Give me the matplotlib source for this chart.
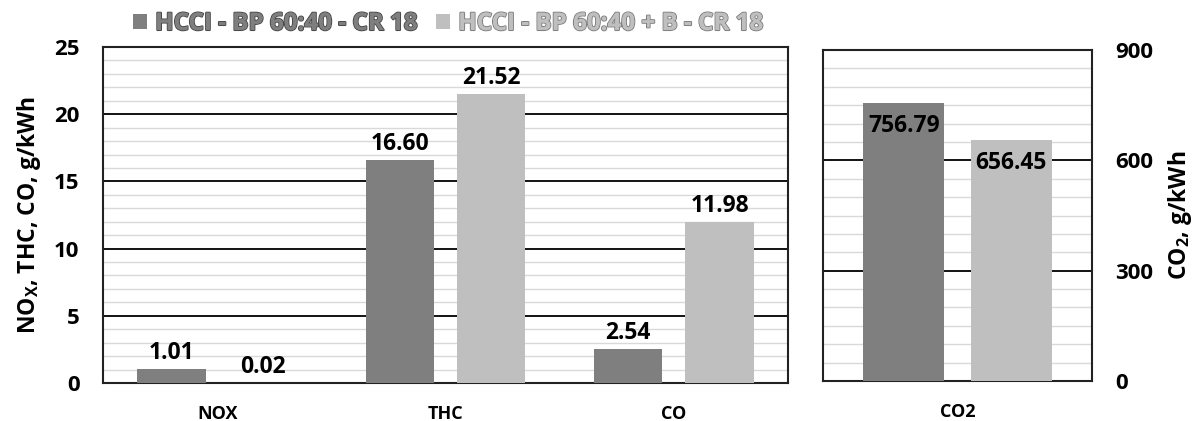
import matplotlib
matplotlib.use('Agg')
import matplotlib.pyplot as plt
import matplotlib.patheffects as pe
import numpy as np
from matplotlib.ticker import MultipleLocator

plt.rcParams['font.family'] = ['Open Sans', 'DejaVu Sans']
plt.rcParams['font.weight'] = 'bold'

# data
categories = ['NOX', 'THC', 'CO']
base_vals = [1.01, 16.60, 2.54]
bio_vals = [0.02, 21.52, 11.98]
co2_category = ['CO2']
co2_base = [756.79]
co2_bio = [656.45]
series_names = ['HCCI - BP 60:40 - CR 18', 'HCCI - BP 60:40 + B - CR 18']

dark = '#7f7f7f'
light = '#bfbfbf'
w = 0.30
off = 0.20

fig = plt.figure(figsize=(11.98, 4.21), dpi=100)
ax = fig.add_axes([103 / 1198, 1 - 383 / 421, 685 / 1198, 336 / 421])
ax2 = fig.add_axes([823 / 1198, 1 - 381 / 421, 269 / 1198, 331 / 421])


def style_axis(a, major, minor):
    a.yaxis.set_major_locator(MultipleLocator(major))
    a.yaxis.set_minor_locator(MultipleLocator(minor))
    a.grid(axis='y', which='minor', color='#d9d9d9', lw=1.0)
    a.grid(axis='y', which='major', color='black', lw=1.3)
    a.set_axisbelow(True)
    for s in a.spines.values():
        s.set_color('#222222')
        s.set_linewidth(1.5)
    a.tick_params(axis='both', which='both', length=0)
    a.tick_params(axis='y', labelsize=16, pad=17)
    a.tick_params(axis='x', labelsize=13, pad=16)
    for lab in a.get_xticklabels() + a.get_yticklabels():
        lab.set_fontweight('bold')


# left: NOX / THC / CO
x = np.arange(len(categories))
b1 = ax.bar(x - off, base_vals, w, color=dark, zorder=3)
b2 = ax.bar(x + off, bio_vals, w, color=light, zorder=3)
ax.set_xlim(-0.5, len(categories) - 0.5)
ax.set_ylim(0, 25)
ax.set_xticks(x)
ax.set_xticklabels(categories)
style_axis(ax, 5, 1)
for bars in (b1, b2):
    for r in bars:
        ax.annotate(f'{r.get_height():.2f}', (r.get_x() + r.get_width() / 2, r.get_height()),
                    xytext=(0, 3), textcoords='offset points', ha='center', va='bottom',
                    fontsize=16.5, fontweight='bold', zorder=5)
ax.set_ylabel('NO$_\\mathregular{X}$, THC, CO, g/kWh', fontsize=16.5, fontweight='bold', labelpad=8)

# right: CO2
x2 = np.arange(len(co2_category))
c1 = ax2.bar(x2 - off, co2_base, w, color=dark, zorder=3)
c2 = ax2.bar(x2 + off, co2_bio, w, color=light, zorder=3)
ax2.set_xlim(-0.5, 0.5)
ax2.set_ylim(0, 900)
ax2.set_xticks(x2)
ax2.set_xticklabels(co2_category)
style_axis(ax2, 300, 50)
ax2.yaxis.tick_right()
ax2.yaxis.set_label_position('right')
for bars in (c1, c2):
    for r in bars:
        ax2.annotate(f'{r.get_height():.2f}', (r.get_x() + r.get_width() / 2, r.get_height()),
                     xytext=(0, -8), textcoords='offset points', ha='center', va='top',
                     fontsize=16.5, fontweight='bold', zorder=5)
ax2.set_ylabel('CO$_\\mathregular{2}$, g/kWh', fontsize=16.5, fontweight='bold', labelpad=9)

# legend with outlined text
leg = fig.legend([b1, b2], series_names, loc='center', bbox_to_anchor=(448 / 1198, 1 - 24 / 421),
                 ncol=2, frameon=False, prop={'size': 17.4, 'weight': 'bold'},
                 handlelength=0.55, handleheight=0.55, handletextpad=0.35, columnspacing=0.8)
for t, fill, edge in zip(leg.get_texts(), [dark, light], ['#4a4a4a', '#808080']):
    t.set_color(fill)
    t.set_path_effects([pe.withStroke(linewidth=1.5, foreground=edge), pe.Normal()])

fig.savefig('out.png', dpi=100)
